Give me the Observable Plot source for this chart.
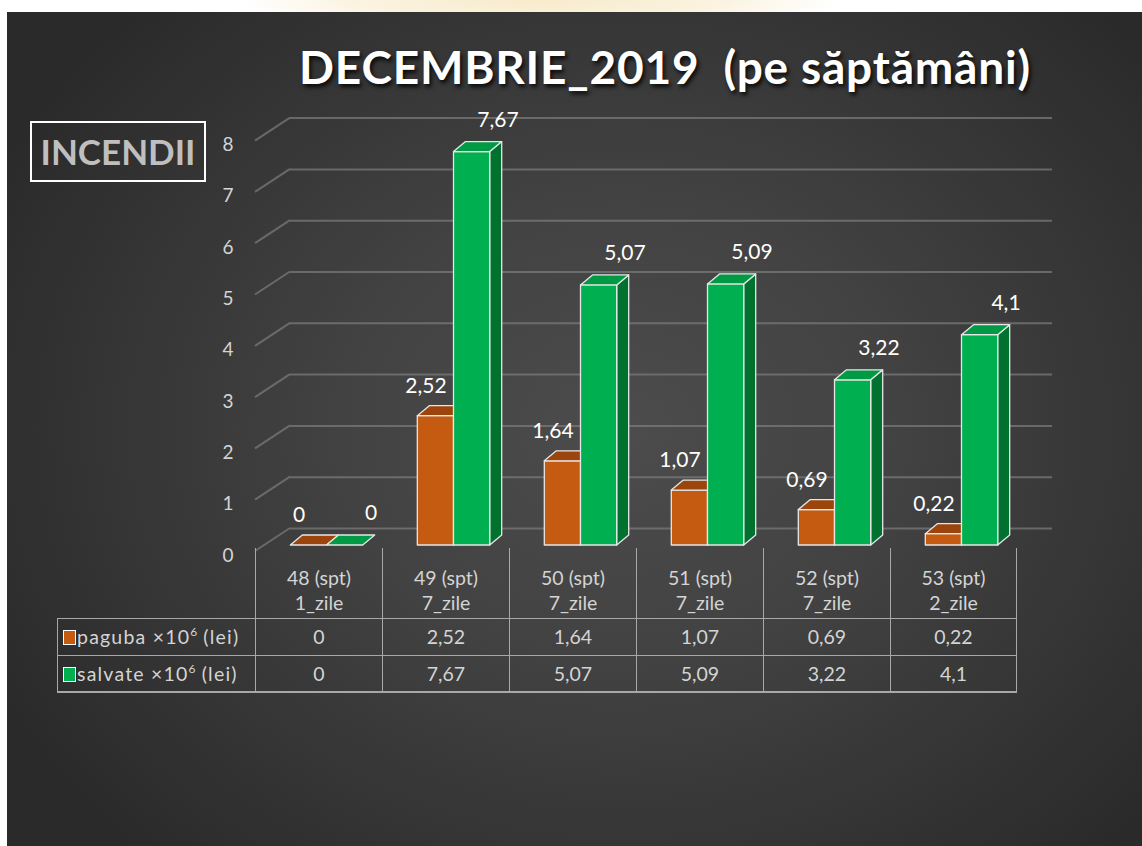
<!DOCTYPE html>
<html><head><meta charset="utf-8">
<script src="https://cdn.jsdelivr.net/npm/d3@7"></script>
<script src="https://cdn.jsdelivr.net/npm/@observablehq/plot@0.6"></script>
<style>
html,body{margin:0;padding:0;background:#fff;width:1142px;height:846px;overflow:hidden;font-family:Lato,"Open Sans",sans-serif;}
#panel{position:absolute;left:7px;top:12px;width:1135px;height:834px;
 background:radial-gradient(ellipse 62% 70% at 54% 50%, #4c4c4c 0%, #424242 40%, #2a2a2a 100%);}
#wm{position:absolute;left:240px;top:0;width:600px;height:12px;
 background:radial-gradient(ellipse 50% 300% at 50% 0%, #f7ebcb 0%, #fbf3e0 60%, #ffffff 100%);}
#chart{position:absolute;left:0;top:0;}
#title{position:absolute;left:290px;top:39px;width:750px;text-align:center;color:#fff;font-weight:700;
 font-size:46px;letter-spacing:0.8px;text-shadow:2px 3px 4px rgba(0,0,0,0.85);white-space:pre;}
#box{position:absolute;left:30px;top:121px;width:172px;height:57px;border:2px solid #fff;color:#bfbfbf;
 font-weight:700;font-size:35px;text-align:center;line-height:57px;}
.cell{position:absolute;box-sizing:border-box;color:#d4d4d4;font-size:19.5px;text-align:center;white-space:nowrap;}
.sw{display:inline-block;width:11px;height:13px;border:1.5px solid #fff;vertical-align:-1px;margin-right:1px;}
sup{font-size:12px;vertical-align:8px;line-height:0;letter-spacing:0;}
</style></head>
<body>
<div id="panel"></div>
<div id="wm"></div>
<div id="chart"></div>
<div id="title">DECEMBRIE_2019  (pe săptămâni)</div>
<div id="box">INCENDII</div>
<div id="table"></div>
<script>
// ---- data ----
const categories = ["48 (spt)", "49 (spt)", "50 (spt)", "51 (spt)", "52 (spt)", "53 (spt)"];
const days = ["1_zile", "7_zile", "7_zile", "7_zile", "7_zile", "2_zile"];
const paguba = [0, 2.52, 1.64, 1.07, 0.69, 0.22];
const salvate = [0, 7.67, 5.07, 5.09, 3.22, 4.1];
const yTicks = [0, 1, 2, 3, 4, 5, 6, 7, 8];
const seriesNames = ["paguba", "salvate"];

const colors = {
  paguba: {front: "#C55A11", top: "#9B450C", side: "#843A0A"},
  salvate: {front: "#00B050", top: "#009A44", side: "#00712F"}
};
const fmt = v => String(v).replace(".", ",");
const depth = {dx: 12, dy: -10};
const wall = {dx: 35, dy: -17};

const rowsP = categories.map((c, i) => ({cat: c, v: paguba[i]}));
const rowsS = categories.map((c, i) => ({cat: c, v: salvate[i]}));

function walls(index, scales) {
  const x = scales.x, y = scales.y;
  const x0 = x.range()[0];
  const g = d3.create("svg:g").attr("stroke", "#7a7a7a").attr("stroke-width", 2).attr("stroke-opacity", 0.75).attr("fill", "none");
  for (const v of yTicks) {
    g.append("line").attr("x1", x0).attr("y1", y(v) + 6).attr("x2", x0 + wall.dx).attr("y2", y(v) + wall.dy);
  }
  return g.node();
}

function bars3d(index, scales) {
  const x = scales.x, y = scales.y;
  const bw = x.bandwidth();
  const barW = bw * 0.285, off = 8;
  const g = d3.create("svg:g").attr("stroke", "#e6e6e6").attr("stroke-width", 1.3).attr("stroke-linejoin", "round");
  categories.forEach((c, i) => {
    const cx = x(c) + bw / 2 + off;
    const parts = [
      {v: paguba[i], col: colors.paguba, x0: cx - barW},
      {v: salvate[i], col: colors.salvate, x0: cx}
    ];
    for (const s of parts) {
      const yb = y(0), yt = y(s.v), a = s.x0, b = s.x0 + barW;
      if (s.v > 0) {
        g.append("polygon").attr("fill", s.col.side)
          .attr("points", [[b, yb], [b + depth.dx, yb + depth.dy], [b + depth.dx, yt + depth.dy], [b, yt]].join(" "));
        g.append("rect").attr("fill", s.col.front).attr("x", a).attr("y", yt).attr("width", barW).attr("height", yb - yt);
      }
      g.append("polygon").attr("fill", s.col.top)
        .attr("points", [[a, yt], [b, yt], [b + depth.dx, yt + depth.dy], [a + depth.dx, yt + depth.dy]].join(" "));
    }
  });
  return g.node();
}

const W = 1142, H = 846;
const chart = Plot.plot({
  width: W, height: H,
  marginLeft: 255, marginRight: 125, marginTop: 134.6, marginBottom: 301,
  style: {background: "transparent", fontFamily: "Lato, 'Open Sans', sans-serif", overflow: "visible"},
  x: {type: "band", domain: categories, paddingInner: 0, paddingOuter: 0, axis: null},
  y: {domain: [0, 8], axis: null},
  marks: [
    Plot.ruleY(yTicks, {dx: wall.dx, dy: wall.dy, stroke: "#7a7a7a", strokeWidth: 2, strokeOpacity: 0.75}),
    walls,
    Plot.axisY({ticks: yTicks, tickSize: 0, tickPadding: 22, dy: 10, fontSize: 19, fill: "#d4d4d4", label: null, tickFormat: d => d}),
    bars3d,
    Plot.text(rowsP, {x: "cat", y: "v", text: d => fmt(d.v), dx: -20, dy: -30, fill: "#fff", fontSize: 21}),
    Plot.text(rowsS, {x: "cat", y: "v", text: d => fmt(d.v), dx: 52, dy: -32, fill: "#fff", fontSize: 21})
  ]
});
document.getElementById("chart").appendChild(chart);

// ---- data table below the chart, aligned with the x scale ----
const xs = chart.scale("x");
const bw = xs.bandwidth;
const legendLeft = 57;
const tHead = 548, tRow1 = 618, rowH = 37;
const line = "1.5px solid #a8a8a8";
const tbl = document.getElementById("table");
function cell(left, top, width, height, html, borders, extra) {
  const d = document.createElement("div");
  d.className = "cell";
  Object.assign(d.style, {left: left + "px", top: top + "px", width: width + "px", height: height + "px"}, borders, extra || {});
  d.innerHTML = html;
  tbl.appendChild(d);
}
categories.forEach((c, i) => {
  const left = xs.apply(c);
  const last = i === categories.length - 1;
  cell(left, tHead, bw, tRow1 - tHead, c + "<br>" + days[i],
    {borderLeft: line, borderRight: last ? line : "none"}, {lineHeight: "25px", paddingTop: "17px"});
  [paguba, salvate].forEach((arr, r) => {
    cell(left, tRow1 + r * rowH, bw, rowH + (r === 1 ? 1 : 0), fmt(arr[i]),
      {borderLeft: line, borderTop: line, borderRight: last ? line : "none", borderBottom: r === 1 ? "2.5px solid #a8a8a8" : "none"},
      {lineHeight: (rowH - 2) + "px"});
  });
});
seriesNames.forEach((name, r) => {
  cell(legendLeft, tRow1 + r * rowH, xs.range[0] - legendLeft, rowH + (r === 1 ? 1 : 0),
    `<span class="sw" style="background:${colors[name].front}"></span>${name} ×10<sup>6</sup> (lei)`,
    {borderLeft: line, borderTop: line, borderBottom: r === 1 ? "2.5px solid #a8a8a8" : "none"},
    {lineHeight: (rowH - 2) + "px", textAlign: "left", paddingLeft: "5px", fontSize: "19.5px", letterSpacing: "1.2px"});
});
</script>
</body></html>
